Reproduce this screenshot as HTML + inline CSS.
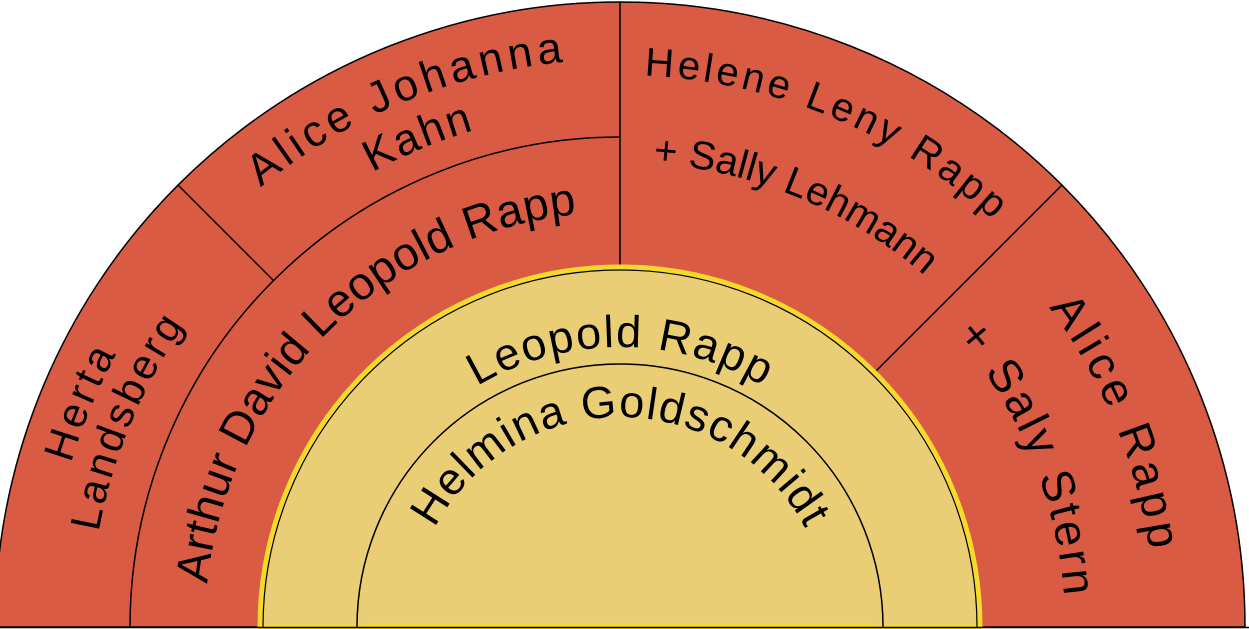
<!DOCTYPE html>
<html><head><meta charset="utf-8"><style>
html,body{margin:0;padding:0;background:#fff;}
svg{display:block;}
text{font-family:"Liberation Sans",sans-serif;fill:#000;}
</style></head><body>
<svg width="1249" height="629" viewBox="0 0 1249 629" xmlns="http://www.w3.org/2000/svg">
<defs>
<path id="r210" d="M410,627 A210,210 0 0 1 830,627"/>
<path id="r280" d="M340,627 A280,280 0 0 1 900,627"/>
<path id="r415" d="M205,627 A415,415 0 0 1 1035,627"/>
<path id="r552" d="M68,627 A552,552 0 0 1 1172,627"/>
<path id="r465" d="M155,627 A465,465 0 0 1 1085,627"/>
<path id="r535" d="M85,627 A535,535 0 0 1 1155,627"/>
<path id="r445" d="M175,627 A445,445 0 0 1 1065,627"/>
<path id="r573" d="M47,627 A573,573 0 0 1 1193,627"/>
<path id="r530" d="M90,627 A530,530 0 0 1 1150,627"/>
<path id="r568" d="M52,627 A568,568 0 0 1 1188,627"/>
<path id="r518" d="M102,627 A518,518 0 0 1 1138,627"/>
</defs>
<path d="M-5,627 A625,625 0 0 1 1245,627 Z" fill="#d95b44" stroke="#000" stroke-width="1.5"/>
<path d="M130,627 A490,490 0 0 1 620,137" fill="none" stroke="#000" stroke-width="1.5"/>
<line x1="620" y1="2" x2="620" y2="267" stroke="#000" stroke-width="1.5"/>
<line x1="875" y1="372" x2="1062" y2="185" stroke="#000" stroke-width="1.5"/>
<line x1="273" y1="280" x2="178" y2="185" stroke="#000" stroke-width="1.5"/>
<path d="M260,627 A360,360 0 0 1 980,627 Z" fill="#e9ce76" stroke="#f5da2b" stroke-width="5"/>
<path d="M263,627 A357,357 0 0 1 977,627" fill="none" stroke="#000" stroke-width="1.2"/>
<path d="M357,627 A263,263 0 0 1 883,627" fill="none" stroke="#000" stroke-width="1.5"/>
<line x1="0" y1="627.5" x2="1249" y2="627.5" stroke="#000" stroke-width="1.5"/>
<line x1="370" y1="625" x2="870" y2="625" stroke="#f5da2b" stroke-width="3"/>

<text font-size="45"><textPath href="#r210" startOffset="50%" text-anchor="middle" textLength="454">Helmina Goldschmidt</textPath></text>
<text font-size="45"><textPath href="#r280" startOffset="50%" text-anchor="middle" textLength="300">Leopold Rapp</textPath></text>
<text font-size="46"><textPath href="#r415" startOffset="25%" text-anchor="middle" textLength="565">Arthur David Leopold Rapp</textPath></text>
<text font-size="40"><textPath href="#r552" startOffset="62.5%" text-anchor="middle" textLength="385">Helene Leny Rapp</textPath></text>
<text font-size="40"><textPath href="#r465" startOffset="62.5%" text-anchor="middle" textLength="299">+ Sally Lehmann</textPath></text>
<text font-size="46"><textPath href="#r535" startOffset="87.5%" text-anchor="middle" textLength="265">Alice Rapp</textPath></text>
<text font-size="46"><textPath href="#r445" startOffset="87.5%" text-anchor="middle" textLength="287">+ Saly Stern</textPath></text>
<text font-size="42"><textPath href="#r573" startOffset="12.5%" text-anchor="middle" textLength="118">Herta</textPath></text>
<text font-size="42"><textPath href="#r530" startOffset="12.5%" text-anchor="middle" textLength="225">Landsberg</textPath></text>
<text font-size="44"><textPath href="#r568" startOffset="37.5%" text-anchor="middle" textLength="332">Alice Johanna</textPath></text>
<text font-size="44"><textPath href="#r518" startOffset="37.5%" text-anchor="middle" textLength="110">Kahn</textPath></text>
</svg>
</body></html>
